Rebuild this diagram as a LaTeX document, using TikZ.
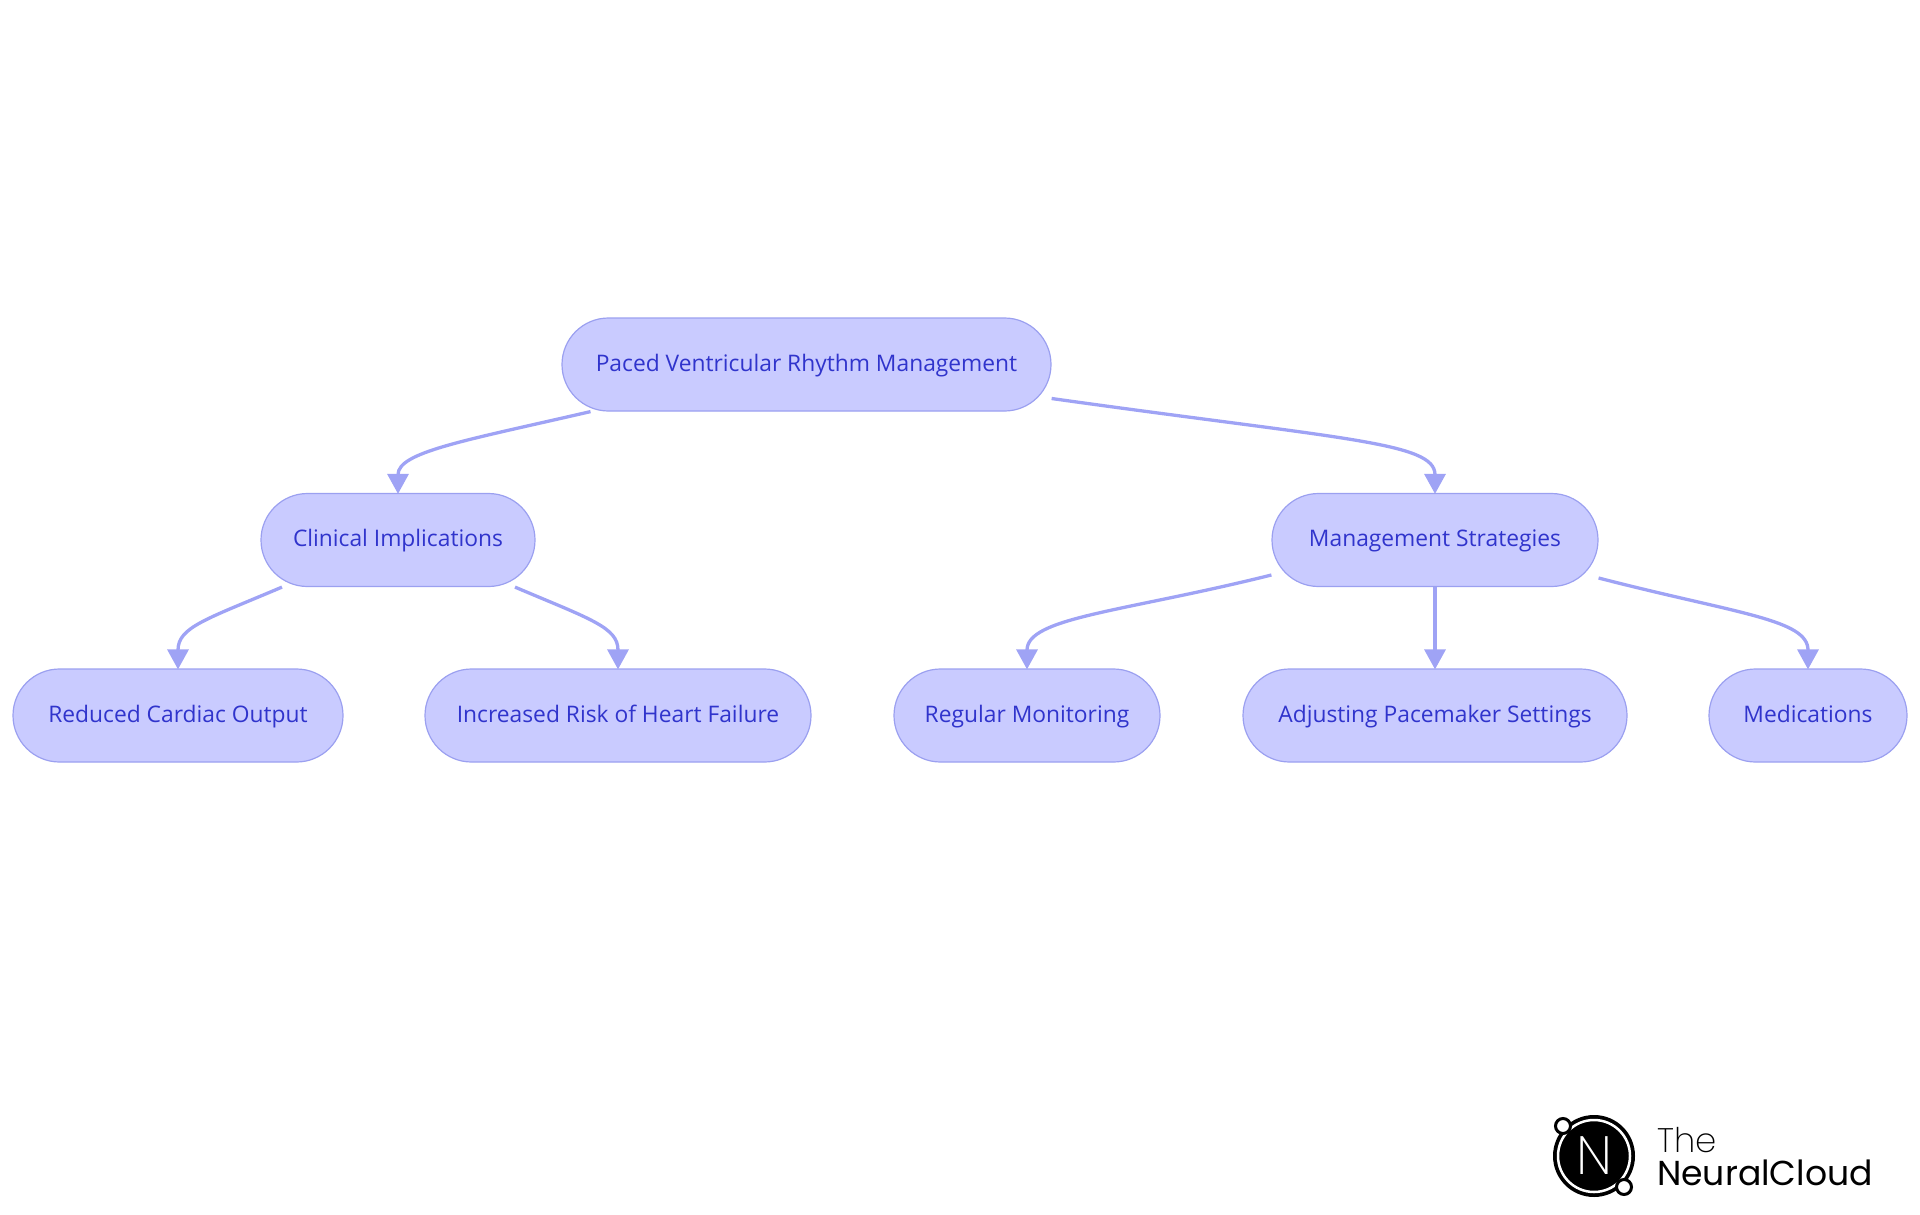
\documentclass[tikz,border=0pt]{standalone}
\usepackage{fontspec}
\setmainfont{Open Sans}
\newfontfamily\logofont{Poppins ExtraLight}
\newfontfamily\logoboldfont{Poppins}
\usepackage{tikz}
\usetikzlibrary{arrows.meta}
\usetikzlibrary{shapes.misc}
\definecolor{boxfill}{HTML}{C9CBFF}
\definecolor{boxline}{HTML}{9BA0F0}
\definecolor{boxtext}{HTML}{3034CC}
\definecolor{linkline}{HTML}{9FA3F5}

\begin{document}
\begin{tikzpicture}[>={Triangle[length=20pt,width=21pt]}, box/.style={rounded rectangle,draw=boxline,fill=boxfill,text=boxtext,line width=1.2pt,minimum height=93pt,inner sep=0pt,text height=17pt,text depth=4pt,font=\fontsize{22.8}{25}\selectfont}, link/.style={->,draw=linkline,line width=3.3pt,shorten >=-1pt}, ]

 \useasboundingbox (0pt,0pt) rectangle (1920pt,-1215pt);

 \node[box,minimum width=489pt] (root) at (806.5pt,-364.5pt) {Paced Ventricular Rhythm Management};

 \node[box,minimum width=274pt] (clin) at (398pt,-540pt) {Clinical Implications};
 \node[box,minimum width=326pt] (mgmt) at (1435pt,-540pt) {Management Strategies};

 \node[box,minimum width=330pt] (red) at (178pt,-715.5pt) {Reduced Cardiac Output};
 \node[box,minimum width=386pt] (inc) at (618pt,-715.5pt) {Increased Risk of Heart Failure};
 \node[box,minimum width=266pt] (reg) at (1027pt,-715.5pt) {Regular Monitoring};
 \node[box,minimum width=384pt] (adj) at (1435pt,-715.5pt) {Adjusting Pacemaker Settings};
 \node[box,minimum width=198pt] (med) at (1808pt,-715.5pt) {Medications};

 \draw[link] ([xshift=-216pt]root.south) to[out=193,in=90,out looseness=1.6,in looseness=0.5] (clin.north);
 \draw[link] ([yshift=-34pt]root.east) to[out=-8,in=90,out looseness=1.9,in looseness=0.33] (mgmt.north);
 \draw[link] ([xshift=-116pt]clin.south) to[out=203,in=90,out looseness=1.6,in looseness=0.8] (red.north);
 \draw[link] ([xshift=117pt]clin.south) to[out=-23,in=90,out looseness=1.6,in looseness=0.8] (inc.north);
 \draw[link] ([yshift=-35pt]mgmt.west) to[out=194,in=90,out looseness=1.5,in looseness=0.5] (reg.north);
 \draw[link] (mgmt.south) -- (adj.north);
 \draw[link] ([yshift=-38pt]mgmt.east) to[out=-14.5,in=90,out looseness=1.6,in looseness=0.55] (med.north);

 \node[circle,fill=black,minimum size=82pt,inner sep=0pt] (logo) at (1594pt,-1156pt) {};
 \node[circle,draw=white,line width=2.5pt,minimum size=72pt,inner sep=0pt] (ring) at (logo.center) {};
 \node[circle,draw=black,fill=white,line width=3pt,minimum size=15pt,inner sep=0pt] (dota) at (1563pt,-1126pt) {};
 \node[circle,draw=black,fill=white,line width=3pt,minimum size=15pt,inner sep=0pt] (dotb) at (1624pt,-1187pt) {};
 \node[text=white,inner sep=0pt,font=\logofont\fontsize{54}{54}\selectfont] (letter) at (logo.center) {N};
 \node[anchor=base west,inner sep=0pt,font=\logofont\fontsize{34}{34}\selectfont] (the) at (1657pt,-1152pt) {The};
 \node[anchor=base west,inner sep=0pt,font=\logoboldfont\fontsize{34.6}{34}\selectfont] (cloud) at (1657pt,-1185pt) {NeuralCloud};

\end{tikzpicture}
\end{document}
